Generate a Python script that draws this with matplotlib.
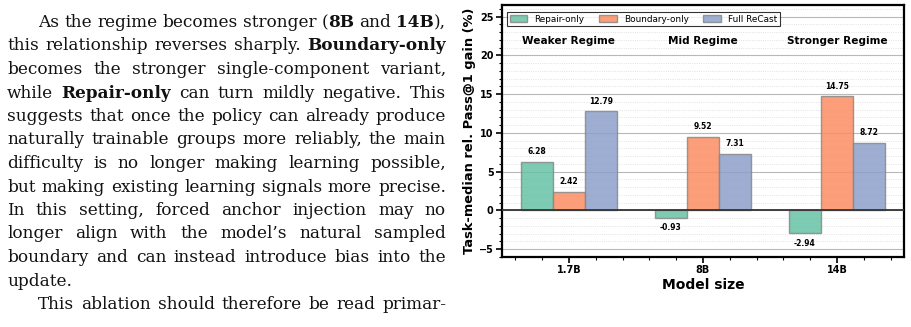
import matplotlib
matplotlib.use('Agg')
import matplotlib.pyplot as plt
from matplotlib.ticker import MultipleLocator
import numpy as np

# chart data
model_sizes = ['1.7B', '8B', '14B']
regimes = ['Weaker Regime', 'Mid Regime', 'Stronger Regime']
repair_only = [6.28, -0.93, -2.94]
boundary_only = [2.42, 9.52, 14.75]
full_recast = [12.79, 7.31, 8.72]
series_names = ['Repair-only', 'Boundary-only', 'Full ReCast']
colors = ['#66c2a5', '#fc8d62', '#8da0cb']

# paragraph text, one entry per line: (indent, justify, words); ** marks bold
para_lines = [
    (True, True, "As the regime becomes stronger (**8B** and **14B**),"),
    (False, True, "this relationship reverses sharply. **Boundary-only**"),
    (False, True, "becomes the stronger single-component variant,"),
    (False, True, "while **Repair-only** can turn mildly negative. This"),
    (False, True, "suggests that once the policy can already produce"),
    (False, True, "naturally trainable groups more reliably, the main"),
    (False, True, "difficulty is no longer making learning possible,"),
    (False, True, "but making existing learning signals more precise."),
    (False, True, "In this setting, forced anchor injection may no"),
    (False, True, "longer align with the model\u2019s natural sampled"),
    (False, True, "boundary and can instead introduce bias into the"),
    (False, False, "update."),
    (True, True, "This ablation should therefore be read primar-"),
]

W, H = 912, 327
fig = plt.figure(figsize=(W / 100, H / 100), dpi=100)
renderer = fig.canvas.get_renderer()

# ---- paragraph on the left ----
serif = 'DejaVu Serif'
fsize = 12.2
left_px, right_px, indent_px = 7, 446, 38
base0, line_step = 27, 23.5


def split_word(word):
    # split a word into (text, bold) segments using ** markers
    segs = []
    parts = word.split('**')
    for i, p in enumerate(parts):
        if p:
            segs.append((p, i % 2 == 1))
    return segs


def raw_width(txt, bold):
    t = fig.text(0, 0, txt, fontsize=fsize, family=serif,
                 fontweight='bold' if bold else 'normal')
    w = t.get_window_extent(renderer).width
    t.remove()
    return w


def seg_width(txt, bold):
    # advance width, with side bearings cancelled out
    return raw_width('|' + txt + '|', bold) - raw_width('||', bold)

space_w = seg_width('a a', False) - seg_width('aa', False)

for i, (indent, justify, line) in enumerate(para_lines):
    words = line.split(' ')
    segs_per_word = [split_word(w) for w in words]
    widths = [[seg_width(s, b) for s, b in segs] for segs in segs_per_word]
    total = sum(sum(ws) for ws in widths)
    x0 = indent_px if indent else left_px
    if justify and len(words) > 1:
        gap = (right_px - x0 - total) / (len(words) - 1)
    else:
        gap = space_w
    y = H - (base0 + i * line_step)
    xp = x0
    for segs, ws in zip(segs_per_word, widths):
        for (s, b), w in zip(segs, ws):
            fig.text(xp / W, y / H, s, fontsize=fsize, family=serif,
                     fontweight='bold' if b else 'normal', va='baseline',
                     ha='left', color='#111111')
            xp += w
        xp += gap

# ---- bar chart on the right ----
ax = fig.add_axes([502 / W, (H - 257) / H, (904 - 502) / W, (257 - 5) / H])
x = np.arange(len(model_sizes))
width = 0.24
all_series = [repair_only, boundary_only, full_recast]

ax.set_axisbelow(True)
ax.yaxis.grid(True, which='major', color='#b8b8b8', linewidth=0.8)
ax.yaxis.grid(True, which='minor', color='#d8d8d8', linestyle=':', linewidth=0.6)

for k, (vals, name, c) in enumerate(zip(all_series, series_names, colors)):
    bars = ax.bar(x + (k - 1) * width, vals, width, color=c, alpha=0.85,
                  edgecolor='#888888', linewidth=1.0, label=name)
    for rect, v in zip(bars, vals):
        xc = rect.get_x() + rect.get_width() / 2
        if v >= 0:
            ax.annotate(f'{v:.2f}', (xc, v), xytext=(0, 4), textcoords='offset points',
                        ha='center', va='bottom', fontsize=5.5, fontweight='bold')
        else:
            ax.annotate(f'{v:.2f}', (xc, v), xytext=(0, -4), textcoords='offset points',
                        ha='center', va='top', fontsize=5.5, fontweight='bold')

ax.axhline(0, color='#333333', linewidth=1.3, zorder=3)

for xi, reg in zip(x, regimes):
    ax.text(xi, 21.8, reg, ha='center', va='center', fontsize=7.6, fontweight='bold')

ax.set_xlim(-0.5, 2.5)
ax.set_ylim(-6, 26.5)
ax.set_xticks(x)
ax.set_xticklabels(model_sizes)
ax.xaxis.set_minor_locator(MultipleLocator(0.2))
ax.yaxis.set_major_locator(MultipleLocator(5))
ax.yaxis.set_minor_locator(MultipleLocator(1))
ax.tick_params(axis='both', which='major', labelsize=7, length=4, width=1.2, pad=2)
ax.tick_params(axis='both', which='minor', length=2.2, width=0.8)
for lbl in ax.get_xticklabels() + ax.get_yticklabels():
    lbl.set_fontweight('bold')

ax.set_xlabel('Model size', fontsize=10, fontweight='bold', labelpad=2)
ax.set_ylabel('Task-median rel. Pass@1 gain (%)', fontsize=9.4, fontweight='bold', labelpad=2)

for sp in ax.spines.values():
    sp.set_linewidth(1.6)
    sp.set_color('black')

leg = ax.legend(loc='upper left', bbox_to_anchor=(507 / W, 1 - 12 / H),
                bbox_transform=fig.transFigure, ncol=3, fontsize=6.4, frameon=True,
                fancybox=False, edgecolor='black', handlelength=2.0, handleheight=0.8,
                handletextpad=0.8, columnspacing=1.6, borderpad=0.3, borderaxespad=0)
leg.get_frame().set_linewidth(0.8)

fig.savefig('out.png', dpi=100)
